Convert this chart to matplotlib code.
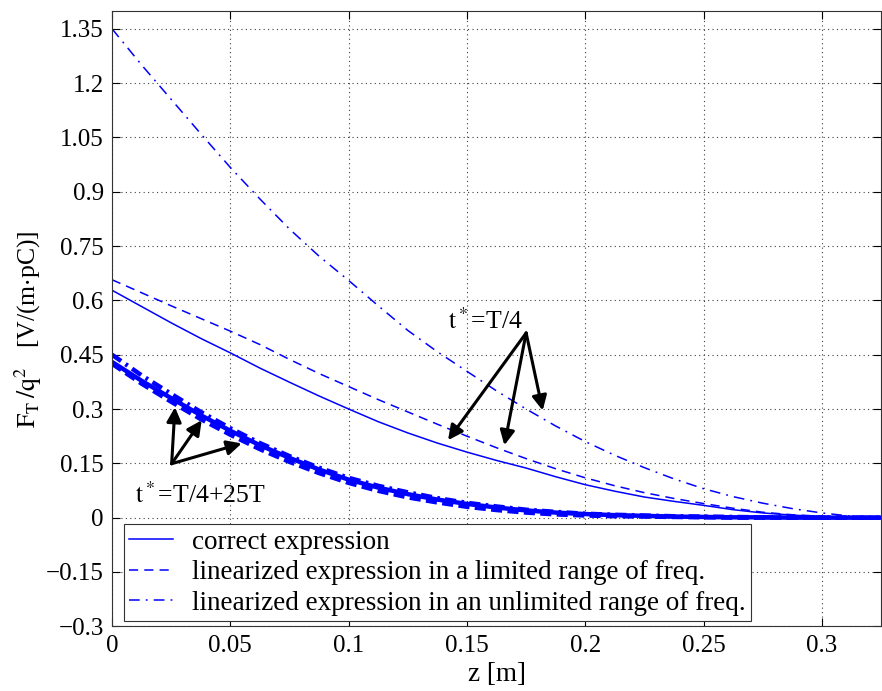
import matplotlib
matplotlib.use('Agg')
import matplotlib.pyplot as plt

plt.rcParams['font.family'] = ['Liberation Serif', 'DejaVu Serif']
plt.rcParams['mathtext.fontset'] = 'stix'

# z positions [m]
z = [0, 0.0125, 0.025, 0.0375, 0.05, 0.0625, 0.075, 0.0875, 0.1, 0.1125, 0.125,
     0.1375, 0.15, 0.1625, 0.175, 0.1875, 0.2, 0.2125, 0.225, 0.2375, 0.25,
     0.2625, 0.275, 0.2875, 0.3, 0.3125, 0.325]

# t* = T/4
correct_t1 = [0.628, 0.583, 0.538, 0.495, 0.455, 0.413, 0.374, 0.336, 0.300, 0.265, 0.234,
              0.206, 0.181, 0.158, 0.137, 0.113, 0.091, 0.073, 0.057, 0.045, 0.034,
              0.022, 0.013, 0.007, 0.003, 0.001, 0.0]
limited_t1 = [0.657, 0.621, 0.585, 0.550, 0.515, 0.478, 0.437, 0.398, 0.362, 0.326, 0.292,
              0.258, 0.225, 0.193, 0.163, 0.135, 0.110, 0.088, 0.069, 0.053, 0.039,
              0.026, 0.015, 0.008, 0.004, 0.001, 0.0]
unlimited_t1 = [1.35, 1.25, 1.155, 1.06, 0.967, 0.880, 0.797, 0.722, 0.655, 0.585, 0.517,
                0.458, 0.404, 0.350, 0.300, 0.253, 0.210, 0.172, 0.138, 0.107, 0.080,
                0.058, 0.040, 0.025, 0.013, 0.004, 0.0]

# t* = T/4 + 25T
correct_t2 = [0.430, 0.378, 0.330, 0.283, 0.240, 0.200, 0.165, 0.133, 0.105, 0.083, 0.065,
              0.050, 0.038, 0.028, 0.020, 0.014, 0.010, 0.007, 0.005, 0.003, 0.002,
              0.001, 0.001, 0.0, 0.0, 0.0, 0.0]
limited_t2 = [0.425, 0.370, 0.320, 0.272, 0.229, 0.189, 0.154, 0.123, 0.096, 0.074, 0.056,
              0.042, 0.030, 0.021, 0.014, 0.009, 0.006, 0.004, 0.003, 0.002, 0.001,
              0.0, 0.0, 0.0, 0.0, 0.0, 0.0]
unlimited_t2 = [0.450, 0.393, 0.342, 0.292, 0.247, 0.206, 0.170, 0.138, 0.110, 0.088, 0.070,
                0.054, 0.041, 0.031, 0.022, 0.016, 0.011, 0.008, 0.006, 0.004, 0.003,
                0.002, 0.001, 0.0, 0.0, 0.0, 0.0]

xticks = [0, 0.05, 0.1, 0.15, 0.2, 0.25, 0.3]
xticklabels = ['0', '0.05', '0.1', '0.15', '0.2', '0.25', '0.3']
yticks = [-0.3, -0.15, 0, 0.15, 0.3, 0.45, 0.6, 0.75, 0.9, 1.05, 1.2, 1.35]
yticklabels = ['\u22120.3', '\u22120.15', '0', '0.15', '0.3', '0.45', '0.6', '0.75', '0.9', '1.05', '1.2', '1.35']

labels = ['correct expression',
          'linearized expression in a limited range of freq.',
          'linearized expression in an unlimited range of freq.']

blue = '#0000ff'
dash = (0, (6, 4))
dashdot = (0, (7, 4, 1.2, 4))

fig = plt.figure(figsize=(8.82, 6.91), dpi=100)
ax = fig.add_axes([0.127, 0.0936, 0.872, 0.891])

# thick curves (late time)
ax.plot(z, correct_t2, color=blue, lw=3.2, solid_capstyle='butt')
ax.plot(z, limited_t2, color=blue, lw=3.2, linestyle=(0, (2.5, 1.2)))
ax.plot(z, unlimited_t2, color=blue, lw=3.2, linestyle=(0, (2.5, 1.2, 0.6, 1.2)))

# thin curves
l1, = ax.plot(z, correct_t1, color=blue, lw=1.1)
l2, = ax.plot(z, limited_t1, color=blue, lw=1.1, linestyle=dash)
l3, = ax.plot(z, unlimited_t1, color=blue, lw=1.1, linestyle=dashdot)

ax.set_xlim(0, 0.325)
ax.set_ylim(-0.3, 1.40)
ax.set_xticks(xticks)
ax.set_xticklabels(xticklabels)
ax.set_yticks(yticks)
ax.set_yticklabels(yticklabels)
ax.tick_params(direction='in', top=True, right=True, length=6, width=0.8,
               labelsize=18, pad=6)
ax.grid(True, linestyle=(0, (1, 3)), color='#404040', linewidth=0.8)
for s in ax.spines.values():
    s.set_linewidth(0.8)
    s.set_color('#333333')

ax.set_xlabel('z [m]', fontsize=19.5, labelpad=4)
ax.set_ylabel(r'$\mathrm{F_T\,/q^2}$   [V/(m$\cdot$pC)]', fontsize=18.5)
ax.yaxis.set_label_coords(-0.088, 0.483)

# annotations
arrow = dict(arrowstyle='-|>', color='black', lw=2.2, mutation_scale=22, shrinkA=0, shrinkB=0)
ax.text(0.1419, 0.522, r'$\mathrm{t^*}$=T/4', fontsize=18.5, ha='left', va='baseline')
for hx, hy in [(0.142, 0.214), (0.1658, 0.200), (0.182, 0.296)]:
    ax.annotate('', xy=(hx, hy), xytext=(0.175, 0.510), arrowprops=arrow)

ax.text(0.0097, 0.040, r'$\mathrm{t^*}$=T/4+25T', fontsize=18.5, ha='left', va='baseline')
for hx, hy in [(0.0266, 0.305), (0.0379, 0.269), (0.0548, 0.205)]:
    ax.annotate('', xy=(hx, hy), xytext=(0.0252, 0.149), arrowprops=arrow)

leg = ax.legend([l1, l2, l3], labels, loc='lower left', bbox_to_anchor=(0.0156, 0.0086),
                borderaxespad=0, fontsize=19.5, fancybox=False, framealpha=1,
                edgecolor='#333333', handlelength=1.6, labelspacing=0.2,
                borderpad=0.2, handletextpad=0.7)
leg.get_frame().set_linewidth(0.8)

fig.savefig('out.png', dpi=100, facecolor='white')
